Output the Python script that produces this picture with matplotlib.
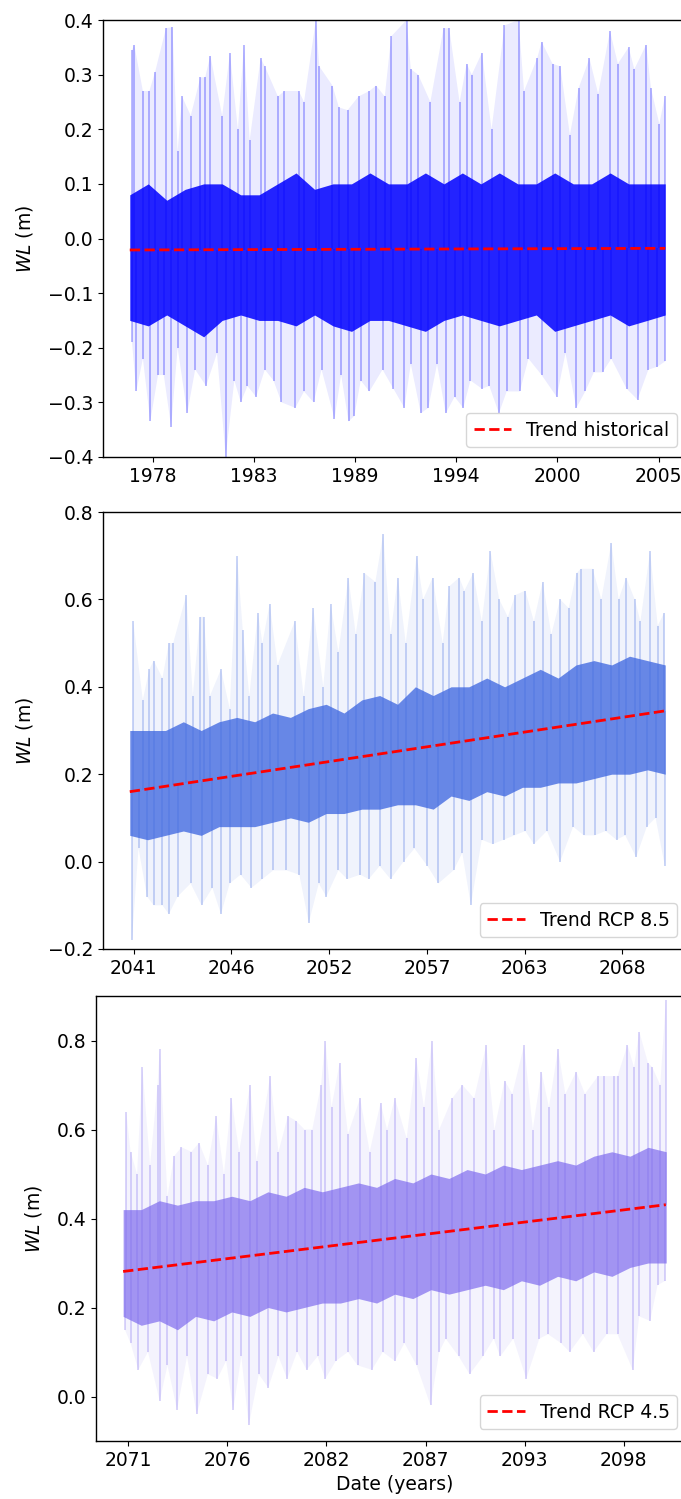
import numpy as np
import matplotlib
matplotlib.use("Agg")
import matplotlib.pyplot as plt

# ---- historical (1977-2006) ----
hist_top_years = [1977.12, 1977.24, 1977.71, 1978.06, 1978.37, 1978.96, 1979.31, 1979.59, 1979.83, 1980.30,
                  1980.82, 1981.08, 1981.36, 1982.00, 1982.42, 1982.85, 1983.18, 1983.49, 1984.08, 1984.31,
                  1985.02, 1985.37, 1986.15, 1986.43, 1987.07, 1987.26, 1987.97, 1988.32, 1988.79, 1989.38,
                  1989.97, 1990.33, 1990.80, 1991.15, 1991.98, 1992.21, 1992.61, 1993.27, 1993.98, 1994.29,
                  1994.85, 1995.23, 1995.51, 1996.06, 1996.58, 1997.28, 1998.04, 1998.34, 1999.05, 1999.29,
                  1999.88, 2000.30, 2000.82, 2001.29, 2001.88, 2002.35, 2002.99, 2003.42, 2004.00, 2004.31,
                  2004.95, 2005.21, 2005.66, 2005.96]
hist_top = [0.345, 0.355, 0.27, 0.27, 0.305, 0.385, 0.387, 0.16, 0.26, 0.225,
            0.295, 0.295, 0.335, 0.225, 0.34, 0.20, 0.355, 0.18, 0.33, 0.315,
            0.26, 0.27, 0.27, 0.25, 0.40, 0.315, 0.28, 0.24, 0.235, 0.26,
            0.27, 0.28, 0.26, 0.37, 0.40, 0.31, 0.30, 0.25, 0.385, 0.385,
            0.25, 0.32, 0.30, 0.34, 0.20, 0.39, 0.40, 0.27, 0.33, 0.36,
            0.32, 0.315, 0.19, 0.275, 0.33, 0.265, 0.38, 0.32, 0.35, 0.31,
            0.355, 0.275, 0.21, 0.26]
hist_bot_years = [1977.12, 1977.35, 1977.71, 1978.11, 1978.53, 1978.84, 1979.24, 1979.59, 1980.11, 1980.54,
                  1981.13, 1981.72, 1982.19, 1982.66, 1983.01, 1983.37, 1983.84, 1984.31, 1984.78, 1985.21,
                  1985.96, 1986.43, 1986.95, 1987.38, 1988.08, 1988.44, 1988.84, 1989.15, 1989.50, 1989.97,
                  1990.68, 1991.27, 1991.86, 1992.21, 1992.75, 1993.16, 1993.63, 1994.10, 1994.58, 1995.05,
                  1995.44, 1996.06, 1996.46, 1996.98, 1997.40, 1998.11, 1998.58, 1999.29, 2000.11, 2000.58,
                  2001.17, 2001.65, 2002.12, 2002.59, 2003.06, 2003.89, 2004.48, 2005.07, 2005.54, 2005.98]
hist_bot = [-0.19, -0.28, -0.22, -0.335, -0.25, -0.25, -0.345, -0.20, -0.32, -0.24,
            -0.27, -0.21, -0.40, -0.26, -0.30, -0.27, -0.29, -0.24, -0.26, -0.30,
            -0.31, -0.28, -0.30, -0.24, -0.33, -0.25, -0.335, -0.325, -0.26, -0.28,
            -0.24, -0.275, -0.31, -0.23, -0.32, -0.31, -0.23, -0.32, -0.29, -0.31,
            -0.26, -0.275, -0.27, -0.32, -0.28, -0.28, -0.22, -0.25, -0.29, -0.21,
            -0.31, -0.28, -0.245, -0.245, -0.22, -0.275, -0.295, -0.24, -0.235, -0.225]
hist_core_years = list(range(1977, 2006)) + [2005.98]
hist_core_hi = [0.08, 0.10, 0.07, 0.09, 0.10, 0.10, 0.08, 0.08, 0.10, 0.12,
                0.09, 0.10, 0.10, 0.12, 0.10, 0.10, 0.12, 0.10, 0.12, 0.10,
                0.12, 0.10, 0.10, 0.12, 0.10, 0.10, 0.12, 0.10, 0.10, 0.10]
hist_core_lo = [-0.15, -0.16, -0.14, -0.16, -0.18, -0.15, -0.14, -0.15, -0.15, -0.16,
                -0.14, -0.16, -0.17, -0.15, -0.15, -0.16, -0.17, -0.15, -0.14, -0.15,
                -0.16, -0.15, -0.14, -0.17, -0.16, -0.15, -0.14, -0.16, -0.15, -0.14]
hist_trend_years = [1977.0, 2005.98]
hist_trend = [-0.021, -0.018]
hist_ticks = ["1978", "1983", "1989", "1994", "2000", "2005"]

# ---- RCP 8.5 (2041-2071) ----
rcp85_top_years = [2041.19, 2041.73, 2042.10, 2042.34, 2042.83, 2043.19, 2043.43, 2044.17, 2044.53, 2044.94,
                   2045.14, 2045.50, 2046.11, 2046.60, 2047.01, 2047.33, 2047.70, 2048.18, 2048.43, 2048.84,
                   2049.28, 2050.25, 2050.74, 2051.28, 2051.84, 2052.25, 2052.69, 2053.25, 2053.66, 2054.15,
                   2054.76, 2055.20, 2055.61, 2056.02, 2056.46, 2057.07, 2057.44, 2057.97, 2058.53, 2058.90,
                   2059.46, 2059.75, 2060.24, 2060.72, 2061.21, 2061.70, 2062.18, 2062.60, 2063.16, 2063.64,
                   2064.13, 2064.62, 2065.11, 2065.59, 2066.03, 2066.27, 2066.93, 2067.42, 2067.98, 2068.39,
                   2068.81, 2069.29, 2069.61, 2070.15, 2070.58, 2070.95]
rcp85_top = [0.55, 0.37, 0.44, 0.46, 0.42, 0.50, 0.50, 0.61, 0.38, 0.56,
             0.56, 0.38, 0.44, 0.35, 0.70, 0.53, 0.38, 0.57, 0.50, 0.59,
             0.45, 0.55, 0.38, 0.58, 0.40, 0.59, 0.48, 0.65, 0.52, 0.66,
             0.64, 0.75, 0.52, 0.65, 0.50, 0.70, 0.60, 0.65, 0.50, 0.63,
             0.65, 0.62, 0.66, 0.55, 0.71, 0.60, 0.56, 0.61, 0.62, 0.55,
             0.64, 0.52, 0.60, 0.58, 0.66, 0.67, 0.67, 0.60, 0.73, 0.60,
             0.65, 0.60, 0.55, 0.71, 0.54, 0.57]
rcp85_bot_years = [2041.12, 2041.49, 2041.97, 2042.34, 2042.83, 2043.19, 2043.68, 2044.41, 2045.02, 2045.63,
                   2046.11, 2046.60, 2047.21, 2047.82, 2048.43, 2049.04, 2049.77, 2050.50, 2051.03, 2051.59,
                   2052.01, 2052.69, 2053.18, 2053.91, 2054.39, 2055.00, 2055.61, 2056.34, 2056.95, 2057.68,
                   2058.29, 2059.14, 2059.63, 2060.11, 2060.72, 2061.33, 2061.94, 2062.55, 2063.16, 2063.64,
                   2064.37, 2065.11, 2065.84, 2066.44, 2067.05, 2067.66, 2068.27, 2068.76, 2069.37, 2069.97,
                   2070.46, 2070.98]
rcp85_bot = [-0.18, 0.03, -0.08, -0.10, -0.10, -0.12, -0.08, -0.05, -0.10, -0.06,
             -0.12, -0.05, -0.03, -0.06, -0.04, -0.02, -0.02, -0.03, -0.14, -0.05,
             -0.08, -0.02, -0.04, -0.03, -0.04, -0.01, -0.04, 0.00, 0.03, -0.01,
             -0.05, -0.02, 0.02, -0.10, 0.05, 0.04, 0.05, 0.06, 0.07, 0.04,
             0.07, 0.00, 0.08, 0.06, 0.06, 0.07, 0.05, 0.06, 0.01, 0.08,
             0.10, -0.01]
rcp85_core_years = list(range(2041, 2072))
rcp85_core_hi = [0.30, 0.30, 0.30, 0.32, 0.30, 0.32, 0.33, 0.32, 0.34, 0.33,
                 0.35, 0.36, 0.34, 0.37, 0.38, 0.36, 0.40, 0.38, 0.40, 0.40,
                 0.42, 0.40, 0.42, 0.44, 0.42, 0.45, 0.46, 0.45, 0.47, 0.46, 0.45]
rcp85_core_lo = [0.06, 0.05, 0.06, 0.07, 0.06, 0.08, 0.08, 0.08, 0.09, 0.10,
                 0.09, 0.11, 0.11, 0.12, 0.12, 0.13, 0.13, 0.12, 0.15, 0.14,
                 0.16, 0.15, 0.17, 0.17, 0.18, 0.18, 0.19, 0.20, 0.20, 0.21, 0.20]
rcp85_trend_years = [2041.0, 2071.0]
rcp85_trend = [0.160, 0.345]
rcp85_ticks = ["2041", "2046", "2052", "2057", "2063", "2068"]

# ---- RCP 4.5 (2071-2101) ----
rcp45_top_years = [2071.17, 2071.41, 2071.77, 2072.06, 2072.49, 2072.90, 2073.02, 2073.45, 2073.81, 2074.22,
                   2074.77, 2075.20, 2075.68, 2076.14, 2076.57, 2076.98, 2077.41, 2078.01, 2078.37, 2079.12,
                   2079.58, 2080.10, 2080.54, 2081.02, 2081.45, 2081.93, 2082.17, 2082.51, 2082.96, 2083.42,
                   2084.09, 2084.62, 2085.22, 2085.58, 2086.01, 2086.66, 2087.19, 2087.62, 2088.06, 2088.46,
                   2089.18, 2089.74, 2090.39, 2091.06, 2091.51, 2092.07, 2092.50, 2093.15, 2093.63, 2094.11,
                   2094.52, 2095.02, 2095.43, 2096.03, 2096.51, 2097.23, 2097.59, 2098.12, 2098.31, 2098.86,
                   2099.22, 2099.51, 2099.99, 2100.23, 2100.67, 2100.98]
rcp45_top = [0.64, 0.55, 0.50, 0.74, 0.52, 0.70, 0.78, 0.45, 0.54, 0.56,
             0.55, 0.57, 0.52, 0.63, 0.50, 0.67, 0.55, 0.70, 0.53, 0.72,
             0.55, 0.63, 0.62, 0.60, 0.60, 0.70, 0.80, 0.65, 0.75, 0.59,
             0.67, 0.55, 0.66, 0.60, 0.67, 0.58, 0.76, 0.65, 0.80, 0.60,
             0.67, 0.70, 0.67, 0.79, 0.60, 0.71, 0.68, 0.79, 0.60, 0.73,
             0.65, 0.78, 0.68, 0.73, 0.68, 0.72, 0.72, 0.72, 0.72, 0.79,
             0.74, 0.82, 0.75, 0.74, 0.70, 0.89]
rcp45_bot_years = [2071.10, 2071.41, 2071.84, 2072.37, 2073.02, 2073.45, 2073.98, 2074.53, 2075.06, 2075.68,
                   2076.21, 2076.69, 2077.08, 2077.53, 2077.94, 2078.49, 2079.02, 2079.58, 2080.06, 2080.61,
                   2081.14, 2081.74, 2082.17, 2082.75, 2083.42, 2083.95, 2084.74, 2085.34, 2086.01, 2086.54,
                   2087.21, 2087.98, 2088.46, 2088.82, 2089.54, 2090.14, 2090.87, 2091.47, 2091.83, 2092.55,
                   2093.27, 2093.99, 2094.47, 2095.19, 2095.67, 2096.39, 2096.99, 2097.71, 2098.31, 2099.15,
                   2099.51, 2100.11, 2100.52, 2100.95]
rcp45_bot = [0.15, 0.12, 0.06, 0.10, -0.01, 0.07, -0.03, 0.09, -0.04, 0.05,
             0.04, 0.08, -0.03, 0.09, -0.065, 0.05, 0.02, 0.09, 0.04, 0.10,
             0.06, 0.09, 0.04, 0.08, 0.10, 0.07, 0.06, 0.10, 0.08, 0.12,
             0.07, -0.02, 0.10, 0.13, 0.09, 0.05, 0.09, 0.13, 0.09, 0.13,
             0.04, 0.13, 0.14, 0.12, 0.10, 0.14, 0.10, 0.14, 0.14, 0.06,
             0.18, 0.17, 0.25, 0.26]
rcp45_core_years = list(range(2071, 2102))
rcp45_core_hi = [0.42, 0.42, 0.44, 0.43, 0.44, 0.44, 0.45, 0.44, 0.46, 0.45,
                 0.47, 0.46, 0.47, 0.48, 0.47, 0.49, 0.48, 0.50, 0.49, 0.51,
                 0.50, 0.52, 0.51, 0.52, 0.53, 0.52, 0.54, 0.55, 0.54, 0.56, 0.55]
rcp45_core_lo = [0.18, 0.16, 0.17, 0.15, 0.18, 0.17, 0.19, 0.18, 0.20, 0.19,
                 0.20, 0.21, 0.21, 0.22, 0.21, 0.23, 0.22, 0.24, 0.23, 0.24,
                 0.25, 0.24, 0.26, 0.25, 0.27, 0.26, 0.28, 0.27, 0.29, 0.30, 0.30]
rcp45_trend_years = [2071.0, 2100.98]
rcp45_trend = [0.281, 0.431]
rcp45_ticks = ["2071", "2076", "2082", "2087", "2093", "2098"]

W, H = 681, 1499
plt.rcParams["font.size"] = 13.5
plt.rcParams["axes.linewidth"] = 1.0
fig = plt.figure(figsize=(W / 100, H / 100), dpi=100)

panels = [
    dict(rect=[103, 20, 692, 457], color="blue", core_alpha=0.85, ylim=(-0.4, 0.4),
         yticks=np.arange(-0.4, 0.41, 0.1),
         top_x=hist_top_years, top=hist_top, bot_x=hist_bot_years, bot=hist_bot,
         core_x=hist_core_years, core_hi=hist_core_hi, core_lo=hist_core_lo,
         trend_x=hist_trend_years, trend=hist_trend, label="Trend historical",
         tick0=1978.24, ticks=hist_ticks, leg_bottom=447),
    dict(rect=[103, 512, 692, 949], color="royalblue", core_alpha=0.78, ylim=(-0.2, 0.8),
         yticks=np.arange(-0.2, 0.81, 0.2),
         top_x=rcp85_top_years, top=rcp85_top, bot_x=rcp85_bot_years, bot=rcp85_bot,
         core_x=rcp85_core_years, core_hi=rcp85_core_hi, core_lo=rcp85_core_lo,
         trend_x=rcp85_trend_years, trend=rcp85_trend, label="Trend RCP 8.5",
         tick0=2041.22, ticks=rcp85_ticks, leg_bottom=937),
    dict(rect=[96, 996, 693, 1441], color="mediumslateblue", core_alpha=0.68, ylim=(-0.1, 0.9),
         yticks=np.arange(0.0, 0.81, 0.2),
         top_x=rcp45_top_years, top=rcp45_top, bot_x=rcp45_bot_years, bot=rcp45_bot,
         core_x=rcp45_core_years, core_hi=rcp45_core_hi, core_lo=rcp45_core_lo,
         trend_x=rcp45_trend_years, trend=rcp45_trend, label="Trend RCP 4.5",
         tick0=2071.28, ticks=rcp45_ticks, leg_bottom=1429),
]

for i, p in enumerate(panels):
    x0, y0, x1, y1 = p["rect"]
    ax = fig.add_axes([x0 / W, 1 - y1 / H, (x1 - x0) / W, (y1 - y0) / H])
    c = p["color"]
    tx, ty = p["trend_x"], p["trend"]
    # faint haze spanning the spike envelope
    ax.fill(list(p["top_x"]) + list(p["bot_x"])[::-1], list(p["top"]) + list(p["bot"])[::-1],
            color=c, alpha=0.08, lw=0)
    # dense central band
    ax.fill_between(p["core_x"], p["core_lo"], p["core_hi"], color=c, alpha=p["core_alpha"], lw=0)
    # spikes rising from / dropping below the trend line, drawn over the band for texture
    slope = (ty[1] - ty[0]) / (tx[1] - tx[0])
    base_top = ty[0] + slope * (np.array(p["top_x"]) - tx[0])
    base_bot = ty[0] + slope * (np.array(p["bot_x"]) - tx[0])
    ax.vlines(p["top_x"], base_top, p["top"], color=c, lw=1.1, alpha=0.35)
    ax.vlines(p["bot_x"], p["bot"], base_bot, color=c, lw=1.1, alpha=0.35)
    ax.plot(tx, ty, "--", color="red", lw=2, label=p["label"])
    ax.set_ylim(*p["ylim"])
    ax.set_yticks(p["yticks"])
    ax.set_xlim(tx[0] - 0.05 * (tx[1] - tx[0]), tx[1] + 0.05 * (tx[1] - tx[0]))
    ax.set_xticks([p["tick0"] + 5.476 * k for k in range(len(p["ticks"]))])
    ax.set_xticklabels(p["ticks"])
    ax.set_ylabel("$WL$ (m)", labelpad=9)
    ax.legend(loc="lower right", bbox_to_anchor=(677 / W, 1 - p["leg_bottom"] / H),
              bbox_transform=fig.transFigure, borderaxespad=0)
    if i == 2:
        ax.set_xlabel("Date (years)")

fig.savefig("out.png", dpi=100)
